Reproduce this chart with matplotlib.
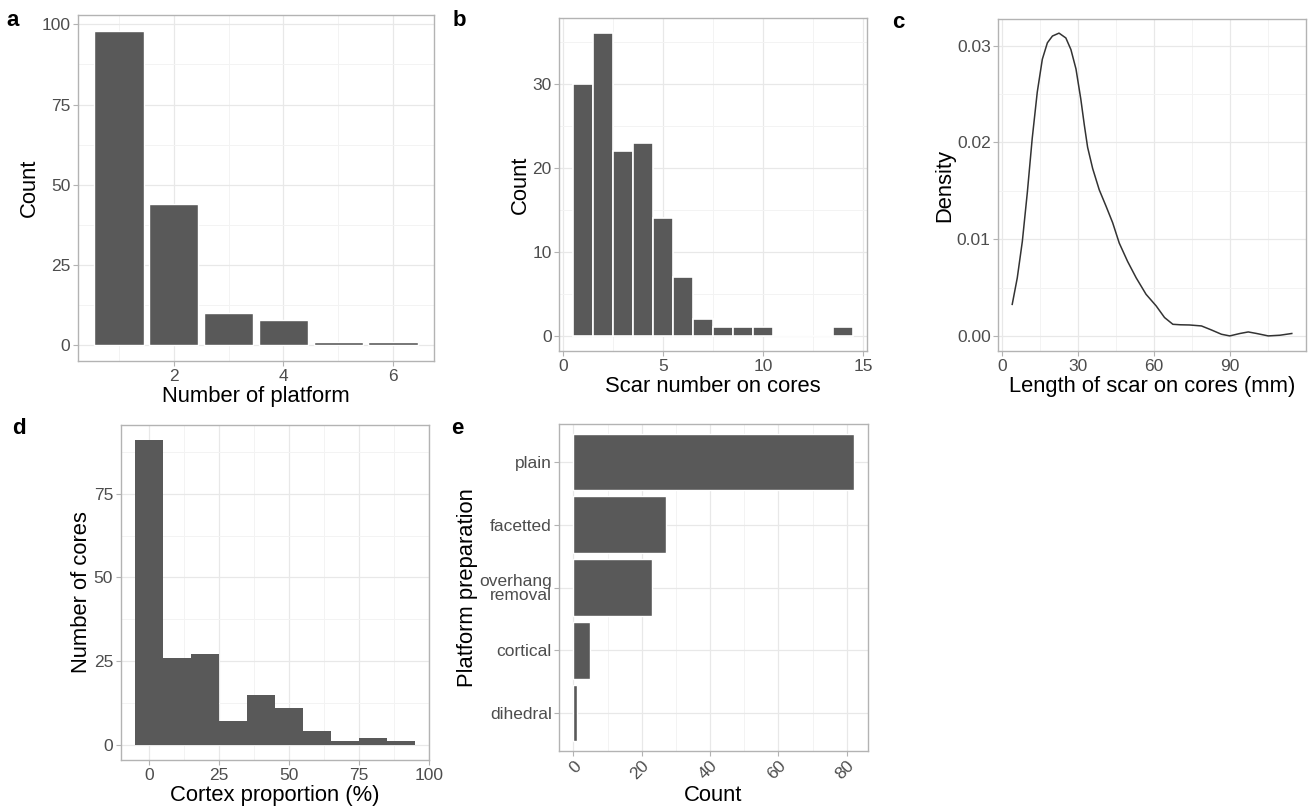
import matplotlib
matplotlib.use("Agg")
import matplotlib.pyplot as plt
from matplotlib import ticker
import numpy as np

plt.rcParams['font.family'] = ['Liberation Sans', 'DejaVu Sans']

# a: number of platforms per core
platform_num = [1, 2, 3, 4, 5, 6]
platform_count = [98, 44, 10, 8, 1, 1]

# b: scar number on cores (bin centres and counts)
scar_num = [1, 2, 3, 4, 5, 6, 7, 8, 9, 10, 11, 12, 13, 14]
scar_count = [30, 36, 22, 23, 14, 7, 2, 1, 1, 1, 0, 0, 0, 1]

# c: density of scar length (mm)
scar_len = [4.0, 6.0, 8.0, 10.0, 11.9, 13.9, 15.9, 17.9, 19.9, 22.5, 25.2, 27.2,
            29.2, 31.1, 32.5, 33.8, 35.8, 38.4, 41.1, 43.7, 46.3, 49.6, 53.0,
            56.9, 60.9, 64.2, 67.5, 70.5, 74.1, 78.8, 82.7, 86.7, 90.0, 94.0,
            97.3, 100.6, 105.2, 109.8, 114.5]
scar_density = [0.00326, 0.0060, 0.00977, 0.0149, 0.0204, 0.0252, 0.0286, 0.0303,
                0.0310, 0.0313, 0.0308, 0.0296, 0.0276, 0.0245, 0.0218, 0.0195,
                0.0173, 0.0151, 0.0134, 0.0117, 0.0096, 0.0077, 0.0060, 0.0043,
                0.0031, 0.0019, 0.0012, 0.00115, 0.00113, 0.00103, 0.00062,
                0.00017, 0.0, 0.00025, 0.00041, 0.00025, 0.0, 0.00007, 0.00025]

# d: cortex proportion (%) histogram, bins of 10 centred on 0, 10, ...
cortex_bin = [0, 10, 20, 30, 40, 50, 60, 70, 80, 90]
cortex_count = [91, 26, 27, 7, 15, 11, 4, 1, 2, 1]

# e: platform preparation
prep_type = ["plain", "facetted", "overhang\nremoval", "cortical", "dihedral"]
prep_count = [82, 27, 23, 5, 1]

BAR = "#595959"
GRID_MAJOR = "#E8E8E8"
GRID_MINOR = "#F3F3F3"
BORDER = "#B3B3B3"
TICK_TXT = "#4D4D4D"
TITLE_SIZE = 15.8
W, H = 1309, 806


def make_axes(fig, left, top, right, bottom):
    """ Adds axes from pixel edges """
    return fig.add_axes([left / W, 1 - bottom / H, (right - left) / W, (bottom - top) / H])


def style(ax, xmajor, ymajor, xminor=None, yminor=None):
    """ Light ggplot-like panel """
    ax.set_facecolor("white")
    for s in ax.spines.values():
        s.set_color(BORDER)
        s.set_linewidth(1.0)
    ax.xaxis.set_major_locator(ticker.FixedLocator(xmajor))
    ax.yaxis.set_major_locator(ticker.FixedLocator(ymajor))
    if xminor is not None:
        ax.xaxis.set_minor_locator(ticker.FixedLocator(xminor))
    if yminor is not None:
        ax.yaxis.set_minor_locator(ticker.FixedLocator(yminor))
    ax.grid(True, which="major", color=GRID_MAJOR, linewidth=0.9)
    ax.grid(True, which="minor", color=GRID_MINOR, linewidth=0.7)
    ax.set_axisbelow(True)
    ax.tick_params(which="major", length=3.5, width=0.8, color=BORDER,
                   labelcolor=TICK_TXT, labelsize=12.5, pad=2)
    ax.tick_params(which="minor", length=0)


fig = plt.figure(figsize=(W / 100, H / 100), dpi=100)

# Panel a
ax = make_axes(fig, 78, 15, 434, 361)
ax.bar(platform_num, platform_count, width=0.9, color=BAR, edgecolor="white", linewidth=1)
ax.set_xlim(0.255, 6.745)
ax.set_ylim(-4.9, 102.9)
style(ax, [2, 4, 6], [0, 25, 50, 75, 100], [1, 3, 5], [12.5, 37.5, 62.5, 87.5])
ax.set_xlabel("Number of platform", fontsize=TITLE_SIZE, labelpad=2)
ax.set_ylabel("Count", fontsize=TITLE_SIZE, labelpad=1)

# Panel b
ax = make_axes(fig, 559.3, 18.3, 867.3, 351)
ax.bar(scar_num, scar_count, width=1, color=BAR, edgecolor="white", linewidth=1.2)
ax.set_xlim(-0.2, 15.2)
ax.set_ylim(-1.8, 37.8)
style(ax, [0, 5, 10, 15], [0, 10, 20, 30], [2.5, 7.5, 12.5], [5, 15, 25, 35])
ax.set_xlabel("Scar number on cores", fontsize=TITLE_SIZE, labelpad=2)
ax.set_ylabel("Count", fontsize=TITLE_SIZE, labelpad=1)

# Panel c
ax = make_axes(fig, 998.3, 19, 1305.7, 351)
ax.plot(scar_len, scar_density, color="#333333", linewidth=1.1,
        solid_joinstyle="round")
ax.set_xlim(-1.5, 120)
ax.set_ylim(-0.00156, 0.03276)
style(ax, [0, 30, 60, 90], [0, 0.01, 0.02, 0.03], [15, 45, 75, 105],
      [0.005, 0.015, 0.025])
ax.yaxis.set_major_formatter(ticker.FormatStrFormatter("%.2f"))
ax.set_xlabel("Length of scar on cores (mm)", fontsize=TITLE_SIZE, labelpad=2)
ax.set_ylabel("Density", fontsize=TITLE_SIZE, labelpad=1)

# Panel d
ax = make_axes(fig, 120.7, 425, 429, 760)
ax.bar(cortex_bin, cortex_count, width=10, color=BAR, linewidth=0)
ax.set_xlim(-10, 100)
ax.set_ylim(-4.55, 95.55)
style(ax, [0, 25, 50, 75, 100], [0, 25, 50, 75], [12.5, 37.5, 62.5, 87.5],
      [12.5, 37.5, 62.5, 87.5])
ax.set_xlabel("Cortex proportion (%)", fontsize=TITLE_SIZE, labelpad=2)
ax.set_ylabel("Number of cores", fontsize=TITLE_SIZE, labelpad=1)

# Panel e
ax = make_axes(fig, 559.3, 424.3, 867.7, 750.7)
ypos = np.arange(len(prep_type))[::-1] + 1
ax.barh(ypos, prep_count, height=0.9, color=BAR, edgecolor="white", linewidth=1)
ax.set_xlim(-4.1, 86.1)
ax.set_ylim(0.4, 5.6)
style(ax, [0, 20, 40, 60, 80], list(ypos), [10, 30, 50, 70])
ax.set_yticklabels(prep_type, linespacing=0.9)
ax.tick_params(axis="x", labelrotation=45)
for lbl in ax.get_xticklabels():
    lbl.set_ha("right")
    lbl.set_va("top")
    lbl.set_rotation_mode("anchor")
ax.set_xlabel("Count", fontsize=TITLE_SIZE, labelpad=2)
ax.set_ylabel("Platform preparation", fontsize=TITLE_SIZE, labelpad=1)

# Panel letters
for letter, x, y in [("a", 13, 20), ("b", 459, 20), ("c", 898, 22),
                     ("d", 19, 429), ("e", 457, 429)]:
    fig.text(x / W, 1 - y / H, letter, fontsize=16, fontweight="bold",
             ha="center", va="center")

fig.savefig("out.png", dpi=100)
